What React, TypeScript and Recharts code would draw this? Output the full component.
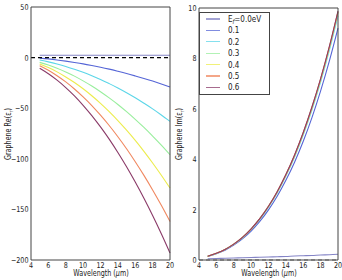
import React from 'react';
import { LineChart, Line, XAxis, YAxis, ReferenceLine } from 'recharts';

// Wavelength samples (µm)
const wavelengths = [5, 6, 7, 8, 9, 10, 11, 12, 13, 14, 15, 16, 17, 18, 19, 20];

// Fermi levels (eV) shown in the legend
const fermiLabels = ['0.0', '0.1', '0.2', '0.3', '0.4', '0.5', '0.6'];

// Real part of graphene permittivity per Fermi level
const reEf00 = [2.3, 2.3, 2.3, 2.3, 2.3, 2.3, 2.3, 2.3, 2.3, 2.3, 2.3, 2.3, 2.3, 2.3, 2.3, 2.3];
const reEf01 = [-0.5, -1.3, -2.3, -3.5, -4.8, -6.2, -7.8, -9.5, -11.4, -13.5, -15.7, -18.1, -20.6, -23.2, -26.0, -29.0];
const reEf02 = [-2.4, -4.2, -6.3, -8.7, -11.5, -14.5, -17.9, -21.6, -25.7, -30.0, -34.7, -39.7, -45.1, -50.7, -56.7, -63.0];
const reEf03 = [-4.7, -7.4, -10.5, -14.2, -18.3, -23.0, -28.1, -33.7, -39.8, -46.3, -53.4, -61.0, -69.0, -77.5, -86.5, -96.0];
const reEf04 = [-6.3, -9.9, -14.1, -19.1, -24.6, -30.8, -37.7, -45.2, -53.4, -62.2, -71.7, -81.8, -92.6, -104.1, -116.2, -128.9];
const reEf05 = [-8.0, -12.5, -17.9, -24.0, -31.0, -38.8, -47.4, -56.9, -67.1, -78.2, -90.1, -102.9, -116.4, -130.8, -146.0, -162.0];
const reEf06 = [-10.6, -16.0, -22.3, -29.6, -37.8, -47.1, -57.3, -68.5, -80.6, -93.8, -107.9, -123.0, -139.0, -156.0, -174.0, -193.0];

// Imaginary part of graphene permittivity per Fermi level
const imEf00 = [0.05, 0.06, 0.07, 0.08, 0.09, 0.1, 0.11, 0.12, 0.13, 0.14, 0.16, 0.17, 0.18, 0.2, 0.21, 0.23];
const imEf01 = [0.14, 0.25, 0.39, 0.59, 0.84, 1.15, 1.53, 1.99, 2.53, 3.16, 3.88, 4.71, 5.65, 6.71, 7.89, 9.2];
const imEf02 = [0.15, 0.26, 0.42, 0.62, 0.88, 1.21, 1.61, 2.1, 2.66, 3.33, 4.09, 4.97, 5.96, 7.07, 8.32, 9.7];
const imEf03 = [0.15, 0.26, 0.42, 0.63, 0.89, 1.23, 1.63, 2.12, 2.69, 3.36, 4.13, 5.02, 6.02, 7.14, 8.4, 9.8];
const imEf04 = [0.15, 0.27, 0.42, 0.63, 0.9, 1.23, 1.64, 2.13, 2.7, 3.38, 4.15, 5.04, 6.04, 7.17, 8.44, 9.84];
const imEf05 = [0.15, 0.27, 0.42, 0.63, 0.9, 1.23, 1.64, 2.13, 2.71, 3.38, 4.16, 5.05, 6.06, 7.19, 8.45, 9.86];
const imEf06 = [0.15, 0.27, 0.42, 0.63, 0.9, 1.24, 1.64, 2.13, 2.71, 3.39, 4.17, 5.06, 6.07, 7.2, 8.47, 9.88];

const xTicks = [4, 6, 8, 10, 12, 14, 16, 18, 20];
const reTicks = [-200, -150, -100, -50, 0, 50];
const imTicks = [0, 2, 4, 6, 8, 10];

const seriesColors = ['#8484c6', '#5565d6', '#5cd6e8', '#98ee9c', '#ecec4c', '#f08860', '#8a3a68'];
const seriesKeys = ['e0', 'e1', 'e2', 'e3', 'e4', 'e5', 'e6'];

const reSeries = [reEf00, reEf01, reEf02, reEf03, reEf04, reEf05, reEf06];
const imSeries = [imEf00, imEf01, imEf02, imEf03, imEf04, imEf05, imEf06];

const buildRows = (series: number[][]) =>
  wavelengths.map((wl, i) => {
    const row: Record<string, number> = { wl };
    series.forEach((s, k) => {
      row[seriesKeys[k]] = s[i];
    });
    return row;
  });

const reRows = buildRows(reSeries);
const imRows = buildRows(imSeries);

const FONT = '"DejaVu Sans", sans-serif';
const INK = '#222';
const FRAME = '#444';
const SQ = 0.8; // horizontal squeeze applied to all text

const fmtNum = (v: number) => (v < 0 ? '\u2212' + Math.abs(v) : String(v));

const bottomTick = (p: any) => (
  <text
    transform={`translate(${p.x},${p.y}) scale(${SQ},1)`}
    textAnchor="middle"
    dy={8}
    fontSize={8}
    fontFamily={FONT}
    fill={INK}
  >
    {fmtNum(p.payload.value)}
  </text>
);

const leftTick = (p: any) => (
  <text
    transform={`translate(${p.x},${p.y}) scale(${SQ},1)`}
    textAnchor="end"
    dy={2.9}
    fontSize={8}
    fontFamily={FONT}
    fill={INK}
  >
    {fmtNum(p.payload.value)}
  </text>
);

// Frame with inward-pointing ticks on all four sides
function frameAxes(yDomain: number[], yTicks: number[]) {
  return [
    <XAxis key="bm" xAxisId="bm" orientation="bottom" mirror type="number" domain={[4, 20]} ticks={xTicks}
      interval={0} tick={false} tickSize={3} height={1} stroke={FRAME} />,
    <XAxis key="tm" xAxisId="tm" orientation="top" mirror type="number" domain={[4, 20]} ticks={xTicks}
      interval={0} tick={false} tickSize={3} height={1} stroke={FRAME} />,
    <YAxis key="lm" yAxisId="lm" orientation="left" mirror type="number" domain={yDomain} ticks={yTicks}
      interval={0} tick={false} tickSize={3} width={1} stroke={FRAME} />,
    <YAxis key="rm" yAxisId="rm" orientation="right" mirror type="number" domain={yDomain} ticks={yTicks}
      interval={0} tick={false} tickSize={3} width={1} stroke={FRAME} />,
  ];
}

const Sub = ({ children, italic }: { children: React.ReactNode; italic?: boolean }) => (
  <span style={{ fontSize: '0.7em', position: 'relative', top: '0.3em', fontStyle: italic ? 'italic' : 'normal' }}>
    {children}
  </span>
);

const RotatedLabel = ({ cx, cy, children }: { cx: number; cy: number; children: React.ReactNode }) => (
  <div style={{ position: 'absolute', left: cx, top: cy, width: 0, height: 0 }}>
    <div
      style={{
        position: 'absolute',
        left: 0,
        top: 0,
        transform: `translate(-50%,-50%) rotate(-90deg) scaleX(${SQ})`,
        whiteSpace: 'nowrap',
        fontFamily: FONT,
        fontSize: 8,
        lineHeight: '10px',
        color: INK,
      }}
    >
      {children}
    </div>
  </div>
);

const XLabel = ({ cx, top }: { cx: number; top: number }) => (
  <div style={{ position: 'absolute', left: cx, top, width: 0, height: 0 }}>
    <div
      style={{
        position: 'absolute',
        left: 0,
        top: 0,
        transform: `translate(-50%,0) scaleX(${SQ})`,
        whiteSpace: 'nowrap',
        fontFamily: FONT,
        fontSize: 8,
        lineHeight: '10px',
        color: INK,
      }}
    >
      Wavelength (<i>μ</i>m)
    </div>
  </div>
);

const legendTop = 19;
const legendStep = 11.4;

export default function App() {
  return (
    <div style={{ position: 'absolute', left: 0, top: 0, width: 342, height: 280, background: '#fff', overflow: 'hidden' }}>
      {/* Imaginary part */}
      <div style={{ position: 'absolute', left: 171, top: 0 }}>
        <LineChart width={171} height={280} data={imRows} margin={{ top: 8, right: 4, bottom: 0, left: 0 }}>
          <XAxis dataKey="wl" type="number" domain={[4, 20]} ticks={xTicks} interval={0} height={20}
            axisLine={false} tickLine={false} tickSize={0} tickMargin={0} tick={bottomTick} />
          <YAxis type="number" domain={[0, 10]} ticks={imTicks} interval={0} width={28}
            axisLine={false} tickLine={false} tickSize={0} tickMargin={2.5} tick={leftTick} />
          {frameAxes([0, 10], imTicks)}
          {seriesKeys.map((k, i) => (
            <Line key={k} dataKey={k} type="monotone" stroke={seriesColors[i]} strokeWidth={1.1}
              dot={false} isAnimationActive={false} />
          ))}
          <ReferenceLine y={0} stroke="#666" strokeWidth={1.2} strokeDasharray="4 3" />
        </LineChart>
      </div>

      {/* Real part (wider canvas so the last tick label is not clipped) */}
      <div style={{ position: 'absolute', left: 0, top: 0 }}>
        <LineChart width={181} height={280} data={reRows} margin={{ top: 7, right: 11, bottom: 0, left: 0 }}>
          <XAxis dataKey="wl" type="number" domain={[4, 20]} ticks={xTicks} interval={0} height={20}
            axisLine={false} tickLine={false} tickSize={0} tickMargin={0} tick={bottomTick} />
          <YAxis type="number" domain={[-200, 50]} ticks={reTicks} interval={0} width={31}
            axisLine={false} tickLine={false} tickSize={0} tickMargin={2.5} tick={leftTick} />
          {frameAxes([-200, 50], reTicks)}
          {seriesKeys.map((k, i) => (
            <Line key={k} dataKey={k} type="monotone" stroke={seriesColors[i]} strokeWidth={1.1}
              dot={false} isAnimationActive={false} />
          ))}
          <ReferenceLine y={0} stroke="#000" strokeWidth={1.2} strokeDasharray="4 3" />
        </LineChart>
      </div>

      <RotatedLabel cx={8.5} cy={133.5}>
        Graphene Re(ε<Sub>r</Sub>)
      </RotatedLabel>
      <RotatedLabel cx={180} cy={134}>
        Graphene Im(ε<Sub>r</Sub>)
      </RotatedLabel>
      <XLabel cx={100.5} top={269} />
      <XLabel cx={268.5} top={269} />

      {/* Legend */}
      <div
        style={{
          position: 'absolute',
          left: 199,
          top: 11.5,
          width: 71,
          height: 83.5,
          boxSizing: 'border-box',
          border: `1px solid ${FRAME}`,
          background: '#fff',
        }}
      />
      {fermiLabels.map((lab, i) => (
        <React.Fragment key={lab}>
          <div
            style={{
              position: 'absolute',
              left: 206,
              top: legendTop + i * legendStep - 0.6,
              width: 14,
              height: 1.2,
              background: seriesColors[i],
              opacity: 0.75,
            }}
          />
          <div
            style={{
              position: 'absolute',
              left: 228,
              top: legendTop + i * legendStep - 6,
              height: 12,
              lineHeight: '12px',
              transform: `scaleX(${SQ})`,
              transformOrigin: '0 50%',
              whiteSpace: 'nowrap',
              fontFamily: FONT,
              fontSize: 9,
              color: INK,
            }}
          >
            {i === 0 ? (
              <>
                E<Sub italic>f</Sub>={lab}eV
              </>
            ) : (
              lab
            )}
          </div>
        </React.Fragment>
      ))}
    </div>
  );
}
